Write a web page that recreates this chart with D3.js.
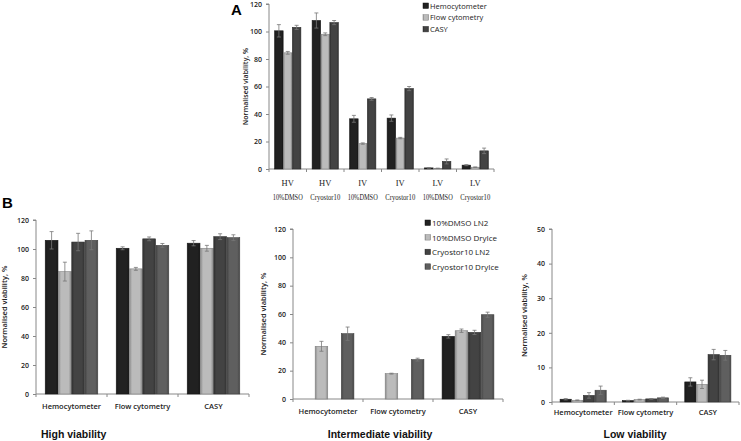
<!DOCTYPE html>
<html>
<head>
<meta charset="utf-8">
<script src="https://cdn.jsdelivr.net/npm/d3@7"></script>
<style>
  body { margin: 0; background: #fff; }
  svg { display: block; }
  .tick text { font-family: "Open Sans", "Liberation Sans", sans-serif; font-weight: 600; }
</style>
</head>
<body>
<script>
const W = 741;
const H = 441;

// ---- data: panel A ----
const aCategories = [["HV", "10%DMSO"], ["HV", "Cryostor10"], ["IV", "10%DMSO"], ["IV", "Cryostor10"], ["LV", "10%DMSO"], ["LV", "Cryostor10"]];
const aSeries = ["Hemocytometer", "Flow cytometry", "CASY"];
const aHemo = [100.5, 108, 36.5, 37, 0.8, 2.8];
const aHemoErr = [4.5, 5.5, 2.5, 2.3, 0.2, 0.4];
const aFlow = [84.5, 98, 18.5, 22.5, 0.5, 1.3];
const aFlowErr = [1, 1, 0.5, 0.5, 0.1, 0.2];
const aCasy = [103, 106.5, 51, 58.5, 5.5, 13.2];
const aCasyErr = [1.5, 1.5, 1, 1.5, 1.8, 2];

// ---- data: panel B ----
const bCategories = ["Hemocytometer", "Flow cytometry", "CASY"];
const bSeries = ["10%DMSO LN2", "10%DMSO DryIce", "Cryostor10 LN2", "Cryostor10 DryIce"];
// values per series across categories
const highVals = [[106, 100.5, 104], [84.4, 86.3, 100.5], [104.8, 107, 108.5], [106, 102.5, 107.8]];
const highErr = [[6, 1, 1.8], [6.5, 1, 2], [6, 1.3, 2], [6.5, 1.3, 2]];
const interVals = [[0, 0, 44.2], [37.2, 17.9, 48.2], [0, 0, 47], [46.1, 27.8, 59.5]];
const interErr = [[0, 0, 1.2], [3.5, 0.3, 1.2], [0, 0, 1.5], [4.7, 1, 1.8]];
const lowVals = [[0.8, 0.4, 5.8], [0.5, 0.7, 5.1], [1.9, 0.9, 13.7], [3.4, 1.2, 13.5]];
const lowErr = [[0.2, 0.1, 1.2], [0.1, 0.1, 1.2], [0.8, 0.1, 1.5], [1.2, 0.2, 1.4]];

const colors = ["#1e1e1e", "#ababab", "#3d3d3d", "#575757"];

const svg = d3.select("body").append("svg").attr("width", W).attr("height", H);
const defs = svg.append("defs");

// Excel-like shading: darker sides, lighter middle
colors.forEach((c, i) => {
  const g = defs.append("linearGradient").attr("id", "grad" + i).attr("x1", 0).attr("x2", 1).attr("y1", 0).attr("y2", 0);
  const base = d3.color(c);
  g.append("stop").attr("offset", "0%").attr("stop-color", base.darker(0.6));
  g.append("stop").attr("offset", "20%").attr("stop-color", base.brighter(0.25));
  g.append("stop").attr("offset", "80%").attr("stop-color", base.brighter(0.25));
  g.append("stop").attr("offset", "100%").attr("stop-color", base.darker(0.6));
});

function drawPanel(opt) {
  const g = svg.append("g");
  const x = d3.scaleBand().domain(d3.range(opt.nCat)).range([opt.x0, opt.x1]);
  const inner = d3.scaleBand().domain(d3.range(opt.values.length))
    .range([0, x.bandwidth() * opt.groupFrac]).paddingInner(0.04);
  const off = x.bandwidth() * (1 - opt.groupFrac) / 2;
  const y = d3.scaleLinear().domain([0, opt.yMax]).range([opt.y0, opt.yTop]);

  // y axis
  const ya = g.append("g").attr("transform", `translate(${opt.x0},0)`)
    .call(d3.axisLeft(y).tickValues(d3.range(0, opt.yMax + 1, opt.yStep)).tickSize(3).tickPadding(4));
  ya.select(".domain").attr("stroke", "#888").attr("d", `M-3,${opt.yTop}H0V${opt.y0}`);
  ya.selectAll(".tick line").attr("stroke", "#888");
  ya.selectAll(".tick text").attr("font-size", opt.tickFont).attr("fill", "#222");

  // x axis
  g.append("line").attr("x1", opt.x0).attr("x2", opt.x1).attr("y1", opt.y0).attr("y2", opt.y0).attr("stroke", "#888");
  g.selectAll(".xt").data(d3.range(opt.nCat + 1)).enter().append("line")
    .attr("x1", (d) => opt.x0 + d * x.step()).attr("x2", (d) => opt.x0 + d * x.step())
    .attr("y1", opt.y0).attr("y2", opt.y0 + 3).attr("stroke", "#888");

  // bars
  opt.values.forEach((vals, s) => {
    vals.forEach((v, c) => {
      if (v <= 0) return;
      const bx = x(c) + off + inner(s);
      g.append("rect").attr("x", bx).attr("y", y(v)).attr("width", inner.bandwidth())
        .attr("height", opt.y0 - y(v)).attr("fill", `url(#grad${opt.colorIdx[s]})`)
        .attr("stroke", d3.color(colors[opt.colorIdx[s]]).darker(0.8)).attr("stroke-width", 0.6);
      const e = opt.errors[s][c];
      const cx = bx + inner.bandwidth() / 2;
      const cap = 2;
      g.append("path")
        .attr("d", `M${cx},${y(v - e)}V${y(v + e)}M${cx - cap},${y(v + e)}H${cx + cap}M${cx - cap},${y(v - e)}H${cx + cap}`)
        .attr("stroke", "#777").attr("stroke-width", 0.8).attr("fill", "none");
    });
  });

  // y label
  g.append("text").attr("transform", `translate(${opt.ylabX},${(opt.yTop + opt.y0) / 2}) rotate(-90)`)
    .attr("text-anchor", "middle").attr("font-family", "Open Sans, sans-serif").attr("font-weight", 600)
    .attr("font-size", opt.ylabFont).attr("fill", "#222").text("Normalised viability, %");

  return x;
}

// ---- Panel A ----
const xA = drawPanel({
  nCat: aCategories.length, x0: 269, x1: 494, y0: 169, yTop: 4, yMax: 120, yStep: 20,
  values: [aHemo, aFlow, aCasy], errors: [aHemoErr, aFlowErr, aCasyErr], colorIdx: [0, 1, 2],
  groupFrac: 0.7, tickFont: 7, ylabX: 248, ylabFont: 7
});
aCategories.forEach((lab, i) => {
  const cx = xA(i) + xA.bandwidth() / 2;
  const t = svg.append("text").attr("text-anchor", "middle")
    .attr("font-family", "Liberation Serif, serif").attr("font-size", 8.5).attr("fill", "#222");
  t.append("tspan").attr("x", cx).attr("y", 186).text(lab[0]);
  t.append("tspan").attr("x", cx).attr("y", 200).attr("textLength", 30).attr("lengthAdjust", "spacingAndGlyphs").text(lab[1]);
});
svg.append("text").attr("x", 231).attr("y", 15).attr("font-family", "Liberation Sans, Arial, sans-serif")
  .attr("font-weight", "bold").attr("font-size", 15).text("A");

const legA = svg.append("g").attr("font-family", "Open Sans, sans-serif").attr("font-size", 7.5).attr("fill", "#222");
aSeries.forEach((s, i) => {
  legA.append("rect").attr("x", 423).attr("y", 3 + i * 11.7).attr("width", 5.5).attr("height", 5.5)
    .attr("fill", `url(#grad${i})`).attr("stroke", d3.color(colors[i]).darker(0.8)).attr("stroke-width", 0.5);
  legA.append("text").attr("x", 430).attr("y", 8.5 + i * 11.7).text(s);
});

// ---- Panel B ----
svg.append("text").attr("x", 2).attr("y", 208).attr("font-family", "Liberation Sans, Arial, sans-serif")
  .attr("font-weight", "bold").attr("font-size", 15).text("B");

const panels = [
  { x0: 36, x1: 249, y0: 394, yTop: 220, yMax: 120, yStep: 20, values: highVals, errors: highErr, ylabX: 7, labY: 409, title: "High viability", tx: 41, anchor: "start" },
  { x0: 293, x1: 503, y0: 399, yTop: 229, yMax: 120, yStep: 20, values: interVals, errors: interErr, ylabX: 266, labY: 414, title: "Intermediate viability", tx: 380, anchor: "middle" },
  { x0: 552, x1: 739, y0: 402, yTop: 229, yMax: 50, yStep: 10, values: lowVals, errors: lowErr, ylabX: 527, labY: 415, title: "Low viability", tx: 635, anchor: "middle" }
];
panels.forEach((p) => {
  const x = drawPanel(Object.assign({ nCat: bCategories.length, colorIdx: [0, 1, 2, 3], groupFrac: 0.74, tickFont: 7, ylabFont: 7.5 }, p));
  bCategories.forEach((c, i) => {
    svg.append("text").attr("x", x(i) + x.bandwidth() / 2).attr("y", p.labY).attr("text-anchor", "middle")
      .attr("font-family", "Open Sans, sans-serif").attr("font-weight", 600).attr("font-size", 7.5).attr("fill", "#222").text(c);
  });
  svg.append("text").attr("x", p.tx).attr("y", 438).attr("text-anchor", p.anchor)
    .attr("font-family", "Liberation Sans, Arial, sans-serif").attr("font-weight", "bold").attr("font-size", 10.5)
    .attr("fill", "#111").text(p.title);
});

const legB = svg.append("g").attr("font-family", "Open Sans, sans-serif").attr("font-size", 8).attr("fill", "#222");
bSeries.forEach((s, i) => {
  legB.append("rect").attr("x", 425).attr("y", 220 + i * 14.6).attr("width", 5.5).attr("height", 5.5)
    .attr("fill", `url(#grad${i})`).attr("stroke", d3.color(colors[i]).darker(0.8)).attr("stroke-width", 0.5);
  legB.append("text").attr("x", 432).attr("y", 226 + i * 14.6).text(s);
});
</script>
</body>
</html>
